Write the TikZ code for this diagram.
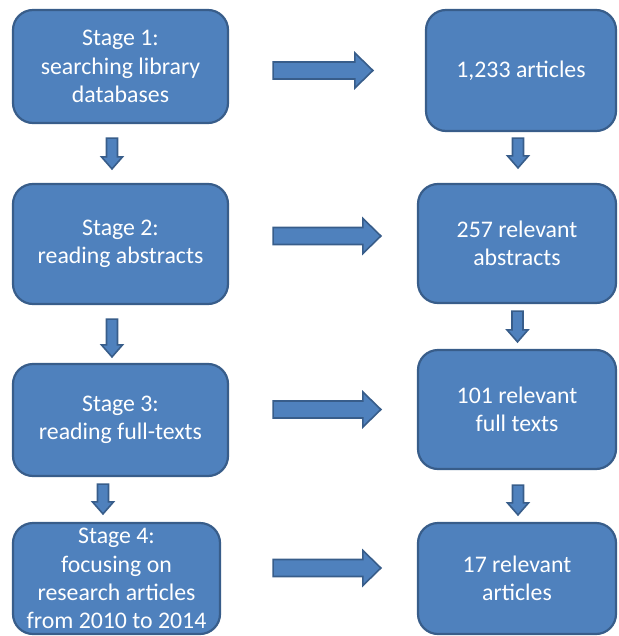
\documentclass[tikz,border=0pt]{standalone}
\usepackage{fontspec}
\setmainfont{Carlito}
\usetikzlibrary{calc,positioning}
\definecolor{boxblue}{HTML}{4F81BD}
\definecolor{boxline}{HTML}{385D8A}
\tikzset{
	stagebox/.style={draw=boxline, line width=2.2pt, fill=boxblue, rounded corners=20pt,
		text=white, align=center, inner sep=0pt, font=\fontsize{23.8}{28.2}\selectfont},
	blockarrow/.style={draw=boxline, line width=1.6pt, fill=boxblue, line join=miter},
}
\def\rarrow(#1)(#2){\draw[blockarrow] let \p1=(#1), \p2=(#2) in (\x1,\y1+8.5) -- (\x2-18,\y1+8.5) -- (\x2-18,\y1+17.5) -- (\x2,\y1) -- (\x2-18,\y1-17.5) -- (\x2-18,\y1-8.5) -- (\x1,\y1-8.5) -- cycle;}
\def\darrow(#1)(#2){\draw[blockarrow] let \p1=(#1), \p2=(#2) in (\x1-5.5,\y1) -- (\x1+5.5,\y1) -- (\x1+5.5,\y2+12) -- (\x1+10.5,\y2+12) -- (\x1,\y2) -- (\x1-10.5,\y2+12) -- (\x1-5.5,\y2+12) -- cycle;}
\begin{document}
\begin{tikzpicture}[x=1pt, y=-1pt]
			%%%%% START %%%%%
			\useasboundingbox (0,0) rectangle (618,636);
			
			% stages
			\node[stagebox, minimum width=215pt, minimum height=113pt] (stage1) at (120.5, 66.5) {Stage 1:\\searching library\\databases};
			\node[stagebox, minimum width=215pt, minimum height=120pt] (stage2) at (120.5, 244) {Stage 2:\\reading abstracts};
			\node[stagebox, minimum width=215pt, minimum height=112pt] (stage3) at (120.5, 420) {Stage 3:\\reading full-texts};
			\node[stagebox, minimum width=207pt, minimum height=111pt] (stage4) at (116.5, 578.5) {Stage 4:\\focusing on\\research articles\\from 2010 to 2014};
			
			% counts
			\node[stagebox, minimum width=190pt, minimum height=121pt] (count1) at (521, 70.5) {1,233 articles};
			\node[stagebox, minimum width=198pt, minimum height=119pt] (count2) at (517, 243.5) {257 relevant\\abstracts};
			\node[stagebox, minimum width=198pt, minimum height=119pt] (count3) at (517, 409.5) {101 relevant\\full texts};
			\node[stagebox, minimum width=198pt, minimum height=111pt] (count4) at (517, 578.5) {17 relevant\\articles};
			
			% arrow ends
			\coordinate (h1s) at ($(stage1.east)+(44,4)$);
			\coordinate (h1e) at ($(count1.west)+(-52,0)$);
			\coordinate (h2s) at ($(stage2.east)+(44,-8)$);
			\coordinate (h2e) at ($(count2.west)+(-36,-7.5)$);
			\coordinate (h3s) at ($(stage3.east)+(44,-10.5)$);
			\coordinate (h3e) at ($(count3.west)+(-36,0)$);
			\coordinate (h4s) at ($(stage4.east)+(52,-10.5)$);
			\coordinate (h4e) at ($(count4.west)+(-36,-10.5)$);
			
			\coordinate (d1s) at ($(stage1.south)+(-8.5,14)$);
			\coordinate (d1e) at ($(stage2.north)+(-8.5,-14)$);
			\coordinate (d2s) at ($(stage2.south)+(-8.5,14)$);
			\coordinate (d2e) at ($(stage3.north)+(-8.5,-6)$);
			\coordinate (d3s) at ($(stage3.south)+(-17.5,7)$);
			\coordinate (d3e) at ($(stage4.north)+(-13.5,-8)$);
			\coordinate (d4s) at ($(count1.south)+(-3,6)$);
			\coordinate (d4e) at ($(count2.north)+(1,-15)$);
			\coordinate (d5s) at ($(count2.south)+(0.5,7)$);
			\coordinate (d5e) at ($(count3.north)+(0.5,-7)$);
			\coordinate (d6s) at ($(count3.south)+(1,15)$);
			\coordinate (d6e) at ($(count4.north)+(1,-7)$);
			
			\rarrow(h1s)(h1e)
			\rarrow(h2s)(h2e)
			\rarrow(h3s)(h3e)
			\rarrow(h4s)(h4e)
			
			\darrow(d1s)(d1e)
			\darrow(d2s)(d2e)
			\darrow(d3s)(d3e)
			\darrow(d4s)(d4e)
			\darrow(d5s)(d5e)
			\darrow(d6s)(d6e)
			
			%%%%% END %%%%%
\end{tikzpicture}
\end{document}
